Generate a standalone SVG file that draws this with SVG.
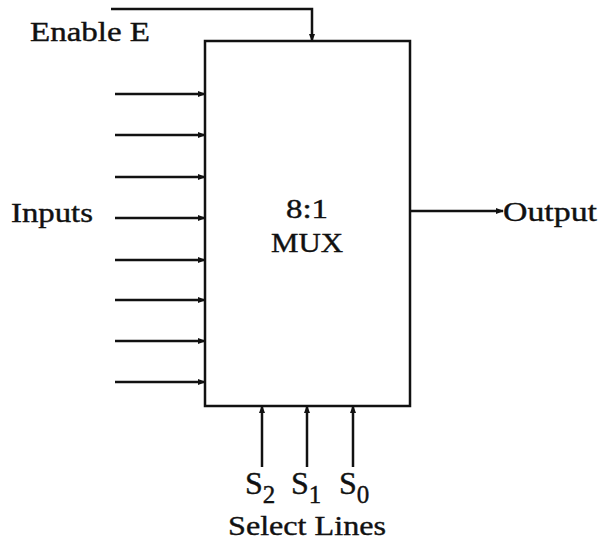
<svg xmlns="http://www.w3.org/2000/svg" width="600" height="548" viewBox="0 0 600 548">
<style>
text{font-family:"Liberation Serif",serif;fill:#111;stroke:#111;stroke-width:0.4}
.t{font-size:28px}
.s{font-size:32px}
.sub{font-size:25px}
.w{stroke:#111;stroke-width:2.5;fill:none}
</style>
<defs>
<marker id="ah" markerWidth="8" markerHeight="6" refX="7" refY="3" orient="auto" markerUnits="userSpaceOnUse">
<path d="M0,0 L8,3 L0,6 Z" fill="#111"/>
</marker>
</defs>
<rect width="600" height="548" fill="#fff"/>
<g id="mux">
<rect x="205" y="41" width="205" height="365" class="w"/>
<text class="t" x="307" y="218" text-anchor="middle" textLength="42" lengthAdjust="spacingAndGlyphs">8:1</text>
<text class="t" x="307" y="252" text-anchor="middle" textLength="72" lengthAdjust="spacingAndGlyphs">MUX</text>
</g>
<g id="labels">
<text class="t" x="30" y="41" textLength="120" lengthAdjust="spacingAndGlyphs">Enable E</text>
<text class="t" x="11" y="222" textLength="82" lengthAdjust="spacingAndGlyphs">Inputs</text>
<text class="t" x="503" y="221" textLength="94" lengthAdjust="spacingAndGlyphs">Output</text>
<text class="s" x="245" y="494">S<tspan class="sub" dy="9">2</tspan></text>
<text class="s" x="291" y="494">S<tspan class="sub" dy="9">1</tspan></text>
<text class="s" x="339" y="494">S<tspan class="sub" dy="9">0</tspan></text>
<text class="t" x="307" y="535" text-anchor="middle" textLength="158" lengthAdjust="spacingAndGlyphs">Select Lines</text>
</g>
<g id="connectors" class="w" marker-end="url(#ah)">
<path d="M111,9 H312 V41"/>
<path d="M115,94 H205"/>
<path d="M115,135 H205"/>
<path d="M115,177 H205"/>
<path d="M115,218 H205"/>
<path d="M115,260 H205"/>
<path d="M115,300 H205"/>
<path d="M115,341 H205"/>
<path d="M115,382 H205"/>
<path d="M410,211 H503"/>
<path d="M262,467 V406"/>
<path d="M307,467 V406"/>
<path d="M353,467 V406"/>
</g>
</svg>
